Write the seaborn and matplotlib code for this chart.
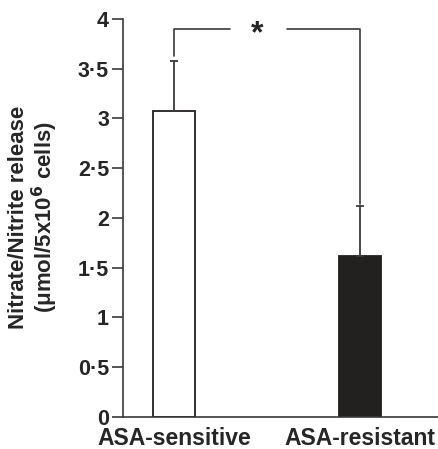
import pandas as pd
import seaborn as sns
import matplotlib.pyplot as plt

# Data
groups = ["ASA-sensitive", "ASA-resistant"]
means = [3.08, 1.62]
errors = [0.50, 0.50]
bar_colors = ["white", "#231f20"]
y_ticks = [0, 0.5, 1, 1.5, 2, 2.5, 3, 3.5, 4]
y_tick_labels = ["0", "0·5", "1", "1·5", "2", "2·5", "3", "3·5", "4"]

sns.set_style("ticks")
plt.rcParams['font.family'] = ['Liberation Sans', 'DejaVu Sans']
plt.rcParams['font.weight'] = 'bold'

df = pd.DataFrame({"group": groups, "value": means})

fig = plt.figure(figsize=(4.39, 4.49), dpi=100)
ax = fig.add_axes([0.280, 0.0713, 0.72, 0.8864])

sns.barplot(data=df, x="group", y="value", hue="group", palette=bar_colors,
            width=0.226, edgecolor="#231f20", linewidth=1.3, legend=False,
            errorbar=None, ax=ax)

# upward-only error bars
ax.errorbar(range(len(groups)), means, yerr=[[0] * len(errors), errors],
            fmt="none", ecolor="#3a3a3a", elinewidth=1.3, capsize=2.6, capthick=1.3)

# significance bracket
top = 3.9
ax.plot([0, 0, 0.30], [means[0] + errors[0] + 0.05, top, top], color="#3a3a3a", lw=1.2)
ax.plot([0.61, 1, 1], [top, top, means[1] + errors[1] + 0.02], color="#3a3a3a", lw=1.2)
ax.text(0.45, top - 0.05, "*", ha="center", va="center", fontsize=23, fontweight="bold")

ax.set_xlim(-0.274, 1.425)
ax.set_ylim(0, 4)
ax.set_yticks(y_ticks)
ax.set_yticklabels(y_tick_labels, fontsize=15.5, fontweight="bold")
ax.set_xticks(range(len(groups)))
ax.set_xticklabels(groups, fontsize=16.5, fontweight="bold")
ax.tick_params(axis="y", length=8, width=1.2, pad=2, color="#3a3a3a")
ax.tick_params(axis="x", length=0, pad=7)
ax.set_xlabel("")
ax.set_ylabel("")

fig.text(34 / 439, 1 - 217 / 449,
         "Nitrate/Nitrite release\n(μmol/5x10$^{\\mathbf{6}}$ cells)",
         rotation=90, ha="center", va="center", multialignment="center",
         fontsize=16, fontweight="bold", linespacing=1.0)

sns.despine(ax=ax)
for s in ["left", "bottom"]:
    ax.spines[s].set_linewidth(1.2)
    ax.spines[s].set_color("#3a3a3a")

fig.savefig("out.png", dpi=100)
